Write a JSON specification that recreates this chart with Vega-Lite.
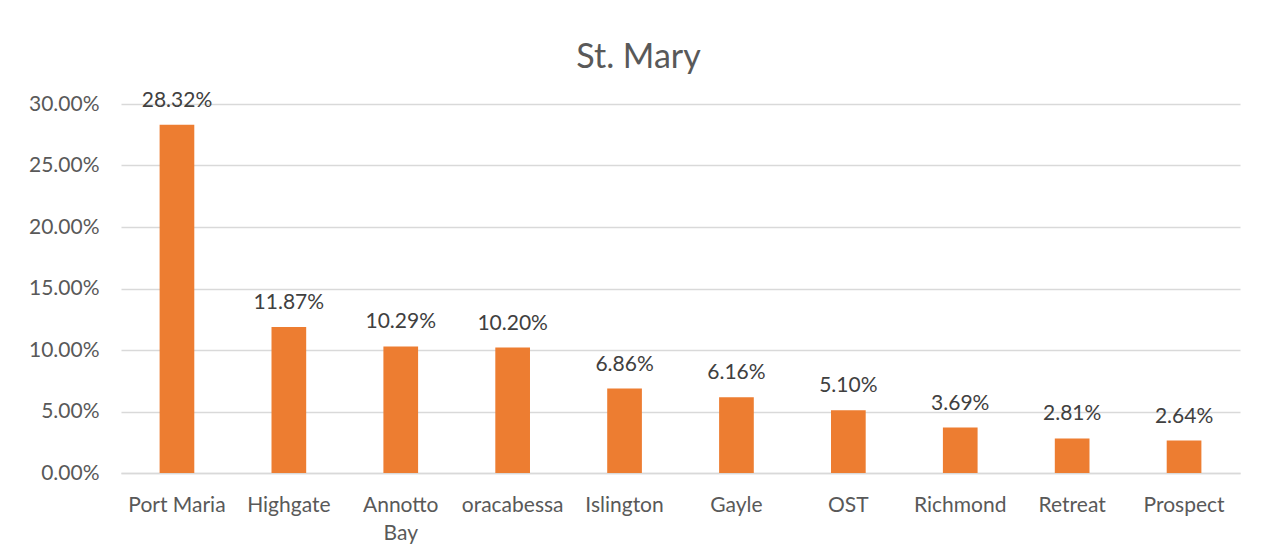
{
  "$schema": "https://vega.github.io/schema/vega-lite/v6.json",
  "autosize": {"type": "none"},
  "width": 1119,
  "height": 369,
  "padding": {"left": 121, "top": 104, "right": 27, "bottom": 85},
  "background": "white",
  "config": {"view": {"stroke": null}, "font": "Lato"},
  "title": {
    "text": "St. Mary",
    "frame": "group",
    "anchor": "middle",
    "dx": -42,
    "dy": 49,
    "offset": 37,
    "baseline": "alphabetic",
    "fontSize": 34,
    "fontWeight": "normal",
    "color": "#595959",
    "font": "Lato"
  },
  "data": {
    "values": [
      {"town": "Port Maria", "share": 0.2832},
      {"town": "Highgate", "share": 0.1187},
      {"town": "Annotto Bay", "share": 0.1029},
      {"town": "oracabessa", "share": 0.1020},
      {"town": "Islington", "share": 0.0686},
      {"town": "Gayle", "share": 0.0616},
      {"town": "OST", "share": 0.0510},
      {"town": "Richmond", "share": 0.0369},
      {"town": "Retreat", "share": 0.0281},
      {"town": "Prospect", "share": 0.0264}
    ]
  },
  "encoding": {
    "x": {
      "field": "town",
      "type": "nominal",
      "sort": null,
      "scale": {"paddingInner": 0.69, "paddingOuter": 0.345},
      "axis": {
        "title": null,
        "labelAngle": 0,
        "labelFontSize": 21,
        "labelColor": "#595959",
        "labelFont": "Lato",
        "labelPadding": 21,
        "labelLineHeight": 28,
        "labelExpr": "datum.value == 'Annotto Bay' ? ['Annotto', 'Bay'] : datum.value",
        "ticks": false,
        "domainColor": "#D9D9D9",
        "domainWidth": 1.5,
        "grid": false
      }
    },
    "y": {
      "field": "share",
      "type": "quantitative",
      "scale": {"domain": [0, 0.3], "nice": false},
      "axis": {
        "title": null,
        "format": ".2%",
        "values": [0, 0.05, 0.1, 0.15, 0.2, 0.25, 0.3],
        "labelFontSize": 21,
        "labelColor": "#595959",
        "labelFont": "Lato",
        "labelPadding": 22,
        "ticks": false,
        "domain": false,
        "gridColor": "#D9D9D9",
        "gridWidth": 1.5
      }
    }
  },
  "layer": [
    {"mark": {"type": "bar", "color": "#ED7D31"}},
    {
      "mark": {
        "type": "text",
        "baseline": "alphabetic",
        "dy": -18,
        "fontSize": 21,
        "color": "#404040",
        "font": "Lato"
      },
      "encoding": {"text": {"field": "share", "type": "quantitative", "format": ".2%"}}
    }
  ]
}
